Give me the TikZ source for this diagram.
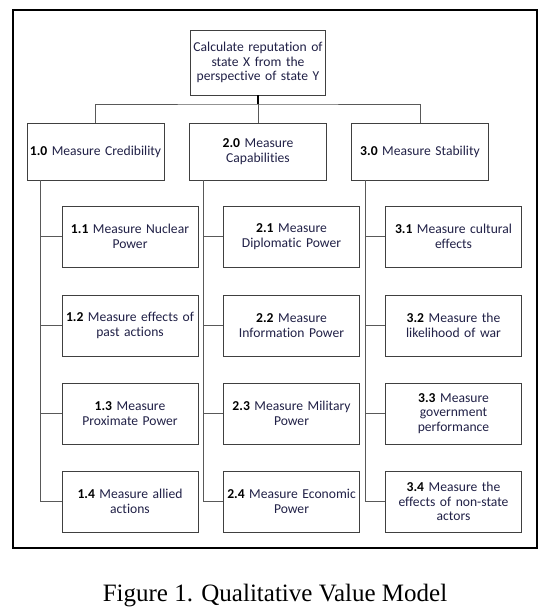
\documentclass[tikz,border=0pt]{standalone}
\usepackage{fontspec}
\setmainfont{Carlito}[WordSpace=0.75,Ligatures=NoCommon]
\newfontfamily\capfont{Liberation Serif}
\definecolor{txt}{rgb}{0.13,0.13,0.28}
\begin{document}
\begin{tikzpicture}[x=1pt,y=-1pt,
  box/.style={draw=black!75,line width=0.8pt,fill=white,align=center,inner sep=1pt,
    font=\fontsize{13.6}{14.5}\selectfont,text=txt},
  topbox/.style={box,minimum width=134pt,minimum height=65pt,text width=133pt},
  lvlbox/.style={box,minimum width=135pt,minimum height=57pt,text width=135pt},
  leafbox/.style={box,minimum width=134pt,minimum height=61pt,text width=134pt},
  conn/.style={draw=black!65,line width=0.9pt},
  frame/.style={draw=black,line width=1.6pt}]
\useasboundingbox (0,0) rectangle (548,610);
\draw[frame] (13,10) rectangle (537,548);

\node[topbox] (top) at (258,62.5) {Calculate reputation of\\state X from the\\perspective of state Y};

\node[lvlbox] (c1) at (95.5,151.5) {\textbf{\color{black}1.0} Measure Credibility};
\node[lvlbox] (c2) at (258,151.5) {\textbf{\color{black}2.0} Measure\\Capabilities};
\node[lvlbox] (c3) at (420,151.5) {\textbf{\color{black}3.0} Measure Stability};

\node[leafbox] (a1) at (130,236.5) {\textbf{\color{black}1.1} Measure Nuclear\\Power};
\node[leafbox] (a2) at (130,325.5) {\textbf{\color{black}1.2} Measure effects of\\past actions};
\node[leafbox] (a3) at (130,413.5) {\textbf{\color{black}1.3} Measure\\Proximate Power};
\node[leafbox] (a4) at (130,501.5) {\textbf{\color{black}1.4} Measure allied\\actions};

\node[leafbox] (b1) at (291.5,236.5) {\textbf{\color{black}2.1} Measure\\Diplomatic Power};
\node[leafbox] (b2) at (291.5,325.5) {\textbf{\color{black}2.2} Measure\\Information Power};
\node[leafbox] (b3) at (291.5,413.5) {\textbf{\color{black}2.3} Measure Military\\Power};
\node[leafbox] (b4) at (291.5,501.5) {\textbf{\color{black}2.4} Measure Economic\\Power};

\node[leafbox] (d1) at (453.5,236.5) {\textbf{\color{black}3.1} Measure cultural\\effects};
\node[leafbox] (d2) at (453.5,325.5) {\textbf{\color{black}3.2} Measure the\\likelihood of war};
\node[leafbox] (d3) at (453.5,413.5) {\textbf{\color{black}3.3} Measure\\government\\performance};
\node[leafbox] (d4) at (453.5,501.5) {\textbf{\color{black}3.4} Measure the\\effects of non-state\\actors};

% top connectors
\coordinate (bus) at (258,104);
\draw[draw=black,line width=1.6pt] (top.south) -- (bus);
\draw[conn] (c1.north) |- (bus) -| (c3.north);
\draw[conn] (bus) -- (c2.north);

% spines
\foreach \p/\s in {c1/a,c2/b,c3/d}{
  \coordinate (\p sp) at ([xshift=14pt]\p.south west);
  \draw[conn] (\p sp) |- (\s4.west);
  \foreach \i in {1,2,3}{
    \draw[conn] (\p sp |- \s\i.west) -- (\s\i.west);
  }
}

\node[font=\capfont\fontsize{25}{28}\selectfont] (cap) at (275,596) {Figure 1. Qualitative Value Model};
\end{tikzpicture}
\end{document}
